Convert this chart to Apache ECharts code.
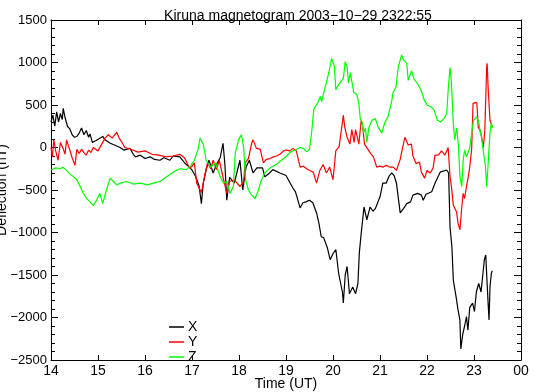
<!DOCTYPE html>
<html><head><meta charset="utf-8">
<script src="https://cdn.jsdelivr.net/npm/echarts@6/dist/echarts.min.js"></script>
<style>html,body{margin:0;padding:0;background:#fff}#c{width:535px;height:392px}</style>
</head><body><div id="c"></div>
<script>
var titleText = 'Kiruna magnetogram 2003\u221210\u221229 2322:55';
var seriesNames = ['X', 'Y', 'Z'];
var xTicks = [14,15,16,17,18,19,20,21,22,23,24];
var xTickLabels = ['14','15','16','17','18','19','20','21','22','23','00'];

var xTime = [14.00,14.04,14.08,14.12,14.16,14.2,14.24,14.26,14.3,14.35,14.4,14.45,14.5,14.55,14.6,14.65,14.7,14.75,14.8,14.83,14.88,14.95,15.04,15.1,15.15,15.26,15.35,15.47,15.55,15.68,15.75,15.8,15.9,16.0,16.11,16.2,16.32,16.4,16.53,16.6,16.74,16.85,16.96,17.0,17.08,17.15,17.2,17.24,17.3,17.36,17.45,17.52,17.6,17.66,17.7,17.74,17.8,17.9,18.02,18.08,18.15,18.22,18.3,18.38,18.5,18.55,18.65,18.72,18.87,19.0,19.09,19.15,19.2,19.3,19.36,19.42,19.5,19.57,19.65,19.7,19.75,19.8,19.88,19.94,20.0,20.06,20.12,20.2,20.22,20.26,20.3,20.35,20.42,20.48,20.53,20.56,20.6,20.66,20.72,20.79,20.85,20.9,21.0,21.06,21.13,21.2,21.25,21.3,21.35,21.43,21.5,21.57,21.65,21.7,21.8,21.88,21.92,21.98,22.1,22.17,22.28,22.42,22.46,22.49,22.53,22.56,22.62,22.66,22.7,22.72,22.76,22.8,22.84,22.87,22.91,22.97,23.01,23.05,23.1,23.15,23.22,23.25,23.27,23.3,23.32,23.34,23.37,23.39];
var xVals = [300,380,250,420,300,400,330,460,350,250,220,150,120,130,170,230,150,200,120,160,60,80,110,130,90,50,30,0,-30,-10,-80,-110,-90,-130,-110,-140,-150,-120,-150,-100,-110,-185,-240,-265,-345,-450,-660,-420,-265,-150,-300,-200,-120,50,-200,-620,-350,-420,-150,-500,-230,-150,-300,-240,-240,-345,-300,-260,-300,-330,-420,-480,-520,-710,-650,-640,-620,-650,-770,-890,-1050,-1060,-1180,-1320,-1250,-1200,-1480,-1700,-1830,-1500,-1400,-1720,-1640,-1720,-1600,-1240,-1010,-700,-850,-700,-750,-720,-580,-420,-420,-330,-300,-330,-420,-770,-720,-660,-640,-560,-540,-560,-620,-550,-520,-420,-290,-265,-300,-935,-1170,-1560,-1760,-1910,-2030,-2370,-2200,-2100,-1990,-2150,-1880,-1830,-1930,-1700,-1600,-1700,-1320,-1265,-1500,-1830,-2030,-1640,-1480,-1450];

var yTime = [14.0,14.03,14.06,14.1,14.15,14.2,14.25,14.3,14.33,14.4,14.45,14.51,14.55,14.6,14.65,14.7,14.75,14.8,14.85,14.9,15.0,15.15,15.22,15.3,15.4,15.45,15.5,15.57,15.7,15.85,16.0,16.15,16.3,16.45,16.6,16.74,16.84,16.95,17.0,17.05,17.1,17.2,17.27,17.33,17.4,17.45,17.52,17.58,17.66,17.74,17.8,17.9,18.02,18.1,18.13,18.2,18.27,18.3,18.37,18.45,18.52,18.58,18.66,18.73,18.8,18.87,18.95,19.0,19.08,19.15,19.22,19.3,19.37,19.44,19.5,19.58,19.65,19.72,19.79,19.86,19.93,20.0,20.06,20.13,20.22,20.25,20.3,20.36,20.4,20.45,20.48,20.55,20.6,20.63,20.67,20.73,20.8,20.86,20.93,21.0,21.07,21.14,21.2,21.28,21.35,21.43,21.47,21.53,21.6,21.67,21.7,21.77,21.84,21.88,21.95,22.0,22.07,22.13,22.17,22.24,22.31,22.38,22.45,22.49,22.52,22.56,22.63,22.66,22.7,22.74,22.77,22.8,22.84,22.88,22.91,22.95,22.98,23.02,23.06,23.09,23.13,23.16,23.2,23.23,23.27,23.28,23.3,23.34,23.39];
var yVals = [0,-110,90,-40,-150,60,0,-80,90,-30,-120,-210,-20,-70,-20,-60,-90,-30,-60,0,-40,110,150,110,180,110,70,0,-20,-55,-40,-80,-90,-110,-100,-80,-120,-245,-220,-180,-420,-530,-330,-180,-250,-150,-260,-150,-350,-540,-400,-380,-460,-400,-180,-130,50,90,-10,-20,-180,-140,-130,-110,-100,-80,-40,-30,-40,-10,-40,-230,-220,-250,-270,-290,-420,-270,-200,-300,-230,-380,-40,10,380,240,120,40,210,60,210,40,320,260,40,-10,-70,-110,-230,-220,-230,-210,-230,-230,-270,-140,-30,120,30,40,-100,-190,-170,-290,-360,-270,-300,-240,-90,-90,-40,-90,0,-340,-460,-680,-760,-890,-970,-700,-540,-600,-460,-340,-230,-20,520,530,530,240,200,130,0,200,950,990,710,320,240];

var zTime = [14.0,14.1,14.2,14.26,14.33,14.4,14.48,14.55,14.62,14.69,14.76,14.83,14.9,14.97,15.04,15.1,15.18,15.26,15.33,15.4,15.47,15.61,15.75,15.9,16.05,16.18,16.32,16.46,16.6,16.74,16.88,16.98,17.05,17.13,17.17,17.2,17.24,17.3,17.4,17.5,17.6,17.67,17.74,17.81,17.88,17.92,17.99,18.05,18.1,18.14,18.2,18.27,18.34,18.4,18.48,18.55,18.62,18.69,18.76,18.84,18.9,18.97,19.05,19.1,19.2,19.3,19.37,19.44,19.5,19.55,19.59,19.62,19.67,19.73,19.76,19.8,19.87,19.92,19.97,20.0,20.03,20.06,20.13,20.22,20.26,20.3,20.33,20.37,20.4,20.44,20.51,20.55,20.58,20.62,20.65,20.69,20.72,20.76,20.83,20.9,20.97,21.04,21.1,21.17,21.24,21.28,21.34,21.39,21.46,21.5,21.57,21.6,21.67,21.72,21.8,21.87,21.94,22.0,22.08,22.15,22.22,22.29,22.36,22.42,22.45,22.49,22.52,22.56,22.59,22.63,22.67,22.7,22.74,22.77,22.8,22.84,22.88,22.91,22.95,22.99,23.06,23.1,23.13,23.16,23.2,23.24,23.27,23.3,23.34,23.37,23.39];
var zVals = [-265,-240,-250,-230,-270,-310,-345,-380,-460,-540,-600,-640,-680,-620,-540,-660,-500,-360,-400,-440,-420,-400,-430,-420,-440,-420,-400,-345,-290,-250,-260,-210,-150,-20,110,130,40,-150,-230,-180,-345,-420,-400,-540,-460,-70,90,150,0,-380,-500,-560,-600,-520,-380,-300,-260,-230,-210,-180,-150,-120,-80,-50,-30,0,-10,-50,-20,200,440,480,520,600,540,640,790,900,1050,1050,950,680,750,810,1010,950,760,880,780,650,620,520,340,300,170,230,60,230,320,340,230,170,290,360,520,650,710,950,1090,1030,990,790,900,810,750,680,560,500,480,440,320,300,340,400,670,940,760,280,90,230,20,-340,-460,-150,-30,-110,-50,0,170,320,360,300,200,120,-50,-200,-460,-200,170,300,230];

function pairs(t, v) { return t.map(function (x, i) { return [x, v[i]]; }); }
var colors = ['#000000', '#ff0000', '#00ff00'];
var font = 'Liberation Sans';
function yFmt(v) { return String(v).replace('-', '\u2212'); }
function xFmt(v) { var i = xTicks.indexOf(v); return i >= 0 ? xTickLabels[i] : ''; }

var axisCommon = {
  axisLine: { show: true, onZero: false, lineStyle: { color: '#000', width: 1 } },
  splitLine: { show: false }
};

var chart = echarts.init(document.getElementById('c'), null, { renderer: 'canvas' });
chart.setOption({
  animation: false,
  backgroundColor: '#fff',
  title: { text: titleText, left: 293, textAlign: 'center', top: 4,
    textStyle: { fontFamily: font, fontSize: 14, fontWeight: 'normal', color: '#000' } },
  legend: {
    data: seriesNames, orient: 'vertical', left: 169, top: 320, padding: 0,
    icon: 'rect', itemWidth: 15, itemHeight: 1.5, itemGap: 1,
    textStyle: { fontFamily: font, fontSize: 14, lineHeight: 14, color: '#000', padding: [0, 0, 0, -1] }
  },
  grid: { left: 51, right: 14, top: 20, bottom: 32, containLabel: false, outerBoundsMode: 'none' },
  xAxis: [
    Object.assign({}, axisCommon, {
      type: 'value', min: 14, max: 24, interval: 1, position: 'bottom',
      name: 'Time (UT)', nameLocation: 'middle', nameGap: 17, nameMoveOverlap: false,
      nameTextStyle: { fontFamily: font, fontSize: 14, color: '#000' },
      axisTick: { show: true, inside: true, length: 5, lineStyle: { color: '#000' } },
      axisLabel: { formatter: xFmt, fontFamily: font, fontSize: 14, color: '#000', margin: 4 }
    }),
    Object.assign({}, axisCommon, {
      type: 'value', min: 14, max: 24, interval: 1, position: 'top',
      axisTick: { show: true, inside: true, length: 5, lineStyle: { color: '#000' } },
      axisLabel: { show: false }
    })
  ],
  yAxis: [
    Object.assign({}, axisCommon, {
      type: 'value', min: -2500, max: 1500, interval: 500, position: 'left',
      name: 'Deflection (nT)', nameLocation: 'middle', nameGap: 42, nameRotate: 90, nameMoveOverlap: false,
      nameTextStyle: { fontFamily: font, fontSize: 14, color: '#000' },
      axisTick: { show: true, inside: true, length: 7, lineStyle: { color: '#000' } },
      minorTick: { show: true, splitNumber: 5, length: 4, lineStyle: { color: '#000' } },
      axisLabel: { formatter: yFmt, fontFamily: font, fontSize: 13, color: '#000', margin: 4 }
    }),
    Object.assign({}, axisCommon, {
      type: 'value', min: -2500, max: 1500, interval: 500, position: 'right',
      axisTick: { show: true, inside: true, length: 7, lineStyle: { color: '#000' } },
      minorTick: { show: true, splitNumber: 5, length: 4, lineStyle: { color: '#000' } },
      axisLabel: { show: false }
    })
  ],
  series: [
    { name: seriesNames[0], type: 'line', data: pairs(xTime, xVals), symbol: 'none',
      lineStyle: { color: colors[0], width: 1.2 }, itemStyle: { color: colors[0] } },
    { name: seriesNames[1], type: 'line', data: pairs(yTime, yVals), symbol: 'none',
      lineStyle: { color: colors[1], width: 1.2 }, itemStyle: { color: colors[1] } },
    { name: seriesNames[2], type: 'line', data: pairs(zTime, zVals), symbol: 'none',
      lineStyle: { color: colors[2], width: 1.2 }, itemStyle: { color: colors[2] } }
  ]
});
</script></body></html>
